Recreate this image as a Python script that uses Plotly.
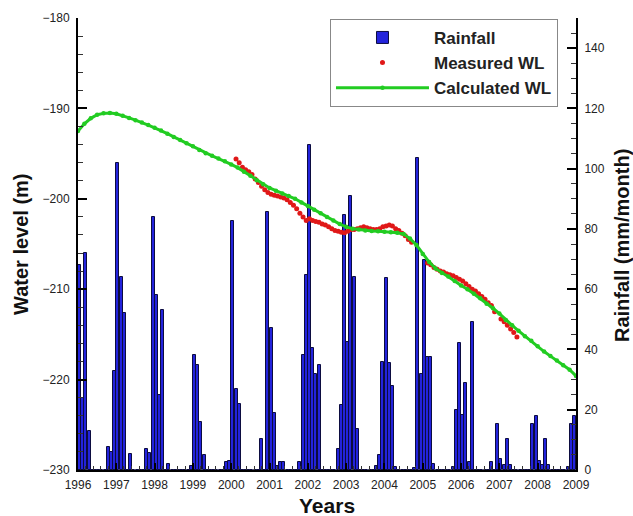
import plotly.graph_objects as go

# ---------------- data ----------------
years = list(range(1996, 2010))

# monthly rainfall (mm/month), Jan..Dec
rain_1996 = [68, 24, 72, 13, 0, 0, 0, 0, 0, 7.5, 6, 33]
rain_1997 = [102, 64, 52, 0, 5.4, 0, 0, 0, 0, 7, 5.5, 84]
rain_1998 = [58, 25, 53, 0, 2, 0, 0, 0, 0, 0, 0, 1.3]
rain_1999 = [38, 35, 16, 5, 0, 0, 0, 0, 0, 0, 2.5, 3]
rain_2000 = [82.5, 27, 22, 0, 0, 0, 0, 0, 0, 10.4, 0, 85.7]
rain_2001 = [47, 19, 1.3, 2.7, 2.7, 0, 0, 0, 0, 2.5, 38, 64.7]
rain_2002 = [108, 40.5, 32, 35, 0, 0, 0, 0, 0, 7, 21.7, 84.6]
rain_2003 = [42.5, 91, 64.2, 13.7, 0, 0, 0, 0, 0, 1.3, 5, 36]
rain_2004 = [63.6, 35.5, 27.8, 1, 0, 0, 0, 0, 0, 0.5, 103.4, 32]
rain_2005 = [69.7, 37.5, 37.5, 2, 0, 0, 0, 0, 0, 1, 20, 42]
rain_2006 = [18.4, 29, 2.5, 49, 0, 0, 0, 0, 0, 2.5, 0, 15.3]
rain_2007 = [3.8, 1.5, 10.4, 1.5, 0, 0, 0, 0, 0, 0, 15.4, 18]
rain_2008 = [3, 1.5, 10.3, 1.5, 0, 0, 0, 0, 0, 1, 15.4, 18]

rain_years = [rain_1996, rain_1997, rain_1998, rain_1999, rain_2000, rain_2001,
              rain_2002, rain_2003, rain_2004, rain_2005, rain_2006, rain_2007,
              rain_2008]

# measured water level (m)
meas_t = [2000.125, 2000.208, 2000.292, 2000.375, 2000.458, 2000.542, 2000.625,
          2000.708, 2000.792, 2000.875, 2000.958, 2001.042, 2001.125, 2001.208,
          2001.292, 2001.375, 2001.458, 2001.542, 2001.625, 2001.708, 2001.792,
          2001.875, 2001.958, 2002.042, 2002.125, 2002.208, 2002.292, 2002.375,
          2002.458, 2002.542, 2002.625, 2002.708, 2002.792, 2002.875, 2002.958,
          2003.042, 2003.125, 2003.208, 2003.292, 2003.375, 2003.458, 2003.542,
          2003.625, 2003.708, 2003.792, 2003.875, 2003.958, 2004.042, 2004.125,
          2004.208, 2004.292, 2004.375, 2004.458, 2004.542, 2004.625, 2004.708,
          2005.125, 2005.208, 2005.292, 2005.375, 2005.458, 2005.542, 2005.625,
          2005.708, 2005.792, 2005.875, 2005.958, 2006.042, 2006.125, 2006.208,
          2006.292, 2006.375, 2006.458, 2006.542, 2006.625, 2006.708, 2006.792,
          2006.875, 2007.042, 2007.125, 2007.208, 2007.292, 2007.375, 2007.458]
meas_wl = [-195.6, -196.0, -196.5, -196.8, -197.0, -197.3, -197.8,
           -198.2, -198.6, -199.0, -199.3, -199.5, -199.6, -199.7,
           -199.8, -199.9, -200.1, -200.4, -200.7, -201.1, -201.6,
           -202.0, -202.4, -202.2, -202.4, -202.5, -202.6, -202.8,
           -202.9, -203.1, -203.3, -203.5, -203.6, -203.7, -203.75,
           -203.6, -203.4, -203.4, -203.3, -203.2, -203.1, -203.2,
           -203.3, -203.4, -203.4, -203.3, -203.1, -203.0, -202.9,
           -203.0, -203.3, -203.5, -203.8, -204.1, -204.5, -204.8,
           -207.1, -207.3, -207.6, -207.8, -208.0, -208.1, -208.3,
           -208.4, -208.5, -208.7, -208.9, -209.1, -209.4, -209.7,
           -210.0, -210.2, -210.5, -210.8, -211.1, -211.5, -211.8,
           -212.5, -213.3, -213.6, -214.0, -214.4, -214.8, -215.3]

# calculated water level (m), every two months from Jan 1996
calc_wl = [-192.5, -191.7, -191.1, -190.7, -190.55, -190.5,
           -190.6, -190.8, -191.05, -191.3, -191.55, -191.85,
           -192.15, -192.45, -192.8, -193.15, -193.5, -193.85,
           -194.2, -194.6, -194.95, -195.25, -195.55, -195.85,
           -196.2, -196.55, -197.0, -197.45, -197.95, -198.4,
           -198.8, -199.1, -199.4, -199.7, -200.0, -200.4,
           -200.8, -201.2, -201.6, -202.0, -202.4, -202.8,
           -203.1, -203.3, -203.4, -203.5, -203.55, -203.6,
           -203.65, -203.7, -203.75, -203.9, -204.4, -205.1,
           -206.1, -207.0, -207.7, -208.2, -208.6, -209.1,
           -209.6, -210.0, -210.5, -211.0, -211.6, -212.1,
           -212.7, -213.4, -214.0, -214.6, -215.2, -215.7,
           -216.3, -216.9, -217.4, -217.9, -218.4, -218.9,
           -219.6]
calc_t = [1996 + k / 6 for k in range(len(calc_wl))]

# ---------------- build ----------------
rain_t, rain_v = [], []
for yi, vals in enumerate(rain_years):
    for m, v in enumerate(vals):
        rain_t.append(1996 + yi + (m + 0.5) / 12)
        rain_v.append(v)

FONT = "Liberation Sans, Arial, sans-serif"
TICKFONT = dict(size=12, family=FONT, color="#222")

fig = go.Figure()
fig.add_trace(go.Bar(
    x=rain_t, y=rain_v, yaxis="y", name="Rainfall",
    width=0.078,
    marker=dict(color="#2323dc", line=dict(color="#0c0c40", width=1)),
))
fig.add_trace(go.Scatter(
    x=meas_t, y=meas_wl, yaxis="y2", mode="markers", name="Measured WL",
    marker=dict(color="#e01818", size=5),
))
fig.add_trace(go.Scatter(
    x=calc_t, y=calc_wl, yaxis="y2", mode="lines+markers", name="Calculated WL",
    line=dict(color="#22cc22", width=3),
    marker=dict(color="#22cc22", size=4.5),
))

fig.update_layout(
    width=633, height=516,
    margin=dict(l=78, r=57, t=18, b=46),
    paper_bgcolor="white", plot_bgcolor="white",
    font=dict(family=FONT, color="#222", size=12),
    showlegend=True,
    bargap=0,
    legend=dict(
        x=0.506, y=0.998, xanchor="left", yanchor="top",
        bordercolor="#888", borderwidth=1, bgcolor="white",
        font=dict(family=FONT, size=17, color="#222", weight="bold"),
        itemwidth=93, tracegroupgap=0,
    ),
    xaxis=dict(
        range=[1996, 2009], tickmode="array", tickvals=years,
        ticktext=[str(y) for y in years],
        showline=True, linecolor="black", linewidth=2, mirror=False,
        ticks="inside", ticklen=7, tickwidth=2, tickcolor="black",
        minor=dict(dtick=0.2, ticks="inside", ticklen=4, tickwidth=1, tickcolor="#333"),
        showgrid=False, zeroline=False,
        tickfont=TICKFONT, ticklabelstandoff=3,
    ),
    yaxis=dict(
        range=[0, 150], side="right", dtick=20, tick0=0,
        showline=True, linecolor="black", linewidth=2,
        ticks="inside", ticklen=9, tickwidth=2, tickcolor="black",
        minor=dict(dtick=5, ticks="inside", ticklen=5, tickwidth=1, tickcolor="#333"),
        showgrid=False, zeroline=False,
        tickfont=TICKFONT, ticklabelstandoff=4,
    ),
    yaxis2=dict(
        range=[-230, -180], side="left", overlaying="y", dtick=10, tick0=-230,
        showline=True, linecolor="black", linewidth=2,
        ticks="inside", ticklen=9, tickwidth=2, tickcolor="black",
        minor=dict(dtick=2, ticks="inside", ticklen=5, tickwidth=1, tickcolor="#333"),
        showgrid=False, zeroline=False,
        tickfont=TICKFONT, ticklabelstandoff=4,
    ),
    annotations=[
        dict(text="Water level (m)", xref="paper", yref="paper",
             x=(21 - 78) / 498, y=(470 - 244) / 452, textangle=-90,
             showarrow=False, xanchor="center", yanchor="middle",
             font=dict(family=FONT, size=20, color="#111", weight="bold")),
        dict(text="Rainfall (mm/month)", xref="paper", yref="paper",
             x=(622 - 78) / 498, y=(470 - 246) / 452, textangle=-90,
             showarrow=False, xanchor="center", yanchor="middle",
             font=dict(family=FONT, size=20, color="#111", weight="bold")),
        dict(text="Years", xref="paper", yref="paper",
             x=(327 - 78) / 498, y=(470 - 505) / 452,
             showarrow=False, xanchor="center", yanchor="middle",
             font=dict(family=FONT, size=21, color="#111", weight="bold")),
    ],
)

fig.write_html("out.html")
